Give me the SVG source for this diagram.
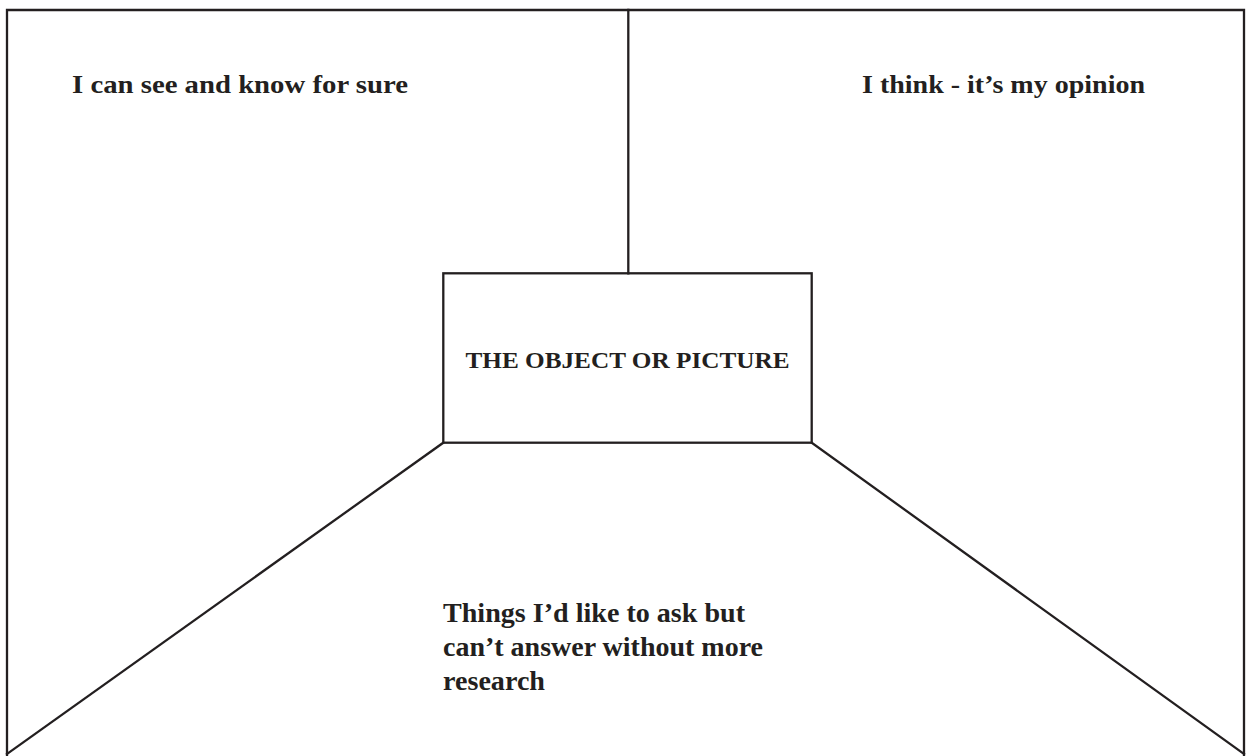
<svg xmlns="http://www.w3.org/2000/svg" width="1248" height="756" viewBox="0 0 1248 756">
<style>
.ln{stroke:#231f20;stroke-width:2.3;fill:none;stroke-linecap:square}
.t{font-family:"Liberation Serif","Times New Roman",serif;font-weight:bold;fill:#231f20}
</style>
<rect width="1248" height="756" fill="#fff"/>
<g id="connectors">
<polyline class="ln" points="7,756 7,10 1244,10 1244,756"/>
<line class="ln" x1="628.3" y1="10" x2="628.3" y2="273.3"/>
<line class="ln" x1="443.3" y1="442.7" x2="7" y2="754"/>
<line class="ln" x1="811.7" y1="442.7" x2="1244" y2="754"/>
</g>
<g id="object">
<rect class="ln" x="443.3" y="273.3" width="368.4" height="169.4"/>
<text class="t" x="627.5" y="368" font-size="24" text-anchor="middle" textLength="324" lengthAdjust="spacingAndGlyphs">THE OBJECT OR PICTURE</text>
</g>
<g id="see">
<text class="t" x="72" y="93" font-size="25" textLength="336" lengthAdjust="spacingAndGlyphs">I can see and know for sure</text>
</g>
<g id="think">
<text class="t" x="862" y="93" font-size="25" textLength="283" lengthAdjust="spacingAndGlyphs">I think - it’s my opinion</text>
</g>
<g id="ask">
<text class="t" font-size="28">
<tspan x="443" y="622" textLength="302" lengthAdjust="spacingAndGlyphs">Things I’d like to ask but</tspan>
<tspan x="443" y="656" textLength="320" lengthAdjust="spacingAndGlyphs">can’t answer without more</tspan>
<tspan x="443" y="690" textLength="102" lengthAdjust="spacingAndGlyphs">research</tspan>
</text>
</g>
</svg>
